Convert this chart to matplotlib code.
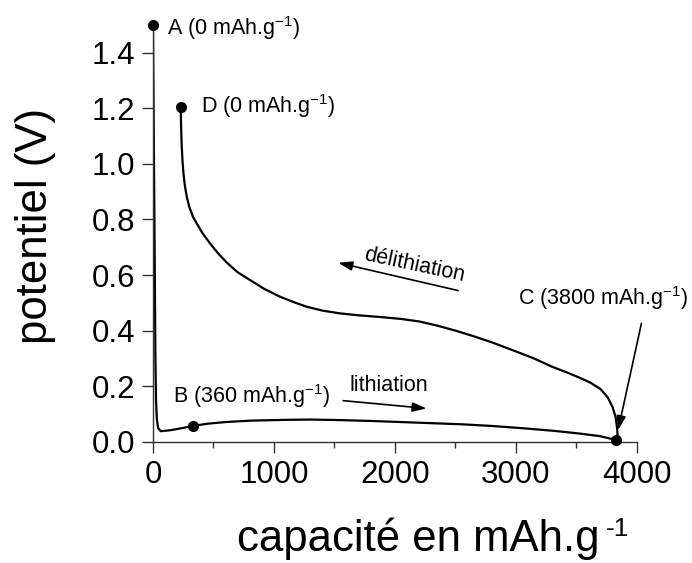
import matplotlib
matplotlib.use("Agg")
import matplotlib.pyplot as plt
from matplotlib.ticker import MultipleLocator

plt.rcParams['font.family'] = ['Liberation Sans', 'DejaVu Sans']
plt.rcParams['mathtext.fontset'] = 'custom'
plt.rcParams['mathtext.rm'] = 'Liberation Sans'
plt.rcParams['mathtext.it'] = 'Liberation Sans:italic'
plt.rcParams['mathtext.bf'] = 'Liberation Sans:bold'

# Lithiation: A -> B -> C
lith_x = [0, 5, 10, 15, 20, 25, 32, 42, 64, 150, 250, 330, 450, 600, 800, 1100,
          1300, 1550, 1800, 2050, 2300, 2550, 2800, 3050, 3300, 3500, 3700, 3832]
lith_y = [1.50, 1.20, 0.90, 0.60, 0.30, 0.15, 0.08, 0.05, 0.038, 0.042, 0.050,
          0.057, 0.065, 0.071, 0.076, 0.079, 0.080, 0.078, 0.075, 0.071, 0.067,
          0.063, 0.057, 0.049, 0.040, 0.031, 0.020, 0.006]

# Delithiation: D -> C
delith_x = [229, 231, 234, 238, 244, 252, 264, 280, 300, 330, 361, 410, 471, 540,
            609, 700, 802, 920, 1050, 1160, 1270, 1400, 1545, 1700, 1875, 2050,
            2200, 2350, 2500, 2650, 2800, 2978, 3150, 3300, 3420, 3530, 3620, 3700,
            3760, 3800, 3825, 3838, 3842, 3832]
delith_y = [1.203, 1.16, 1.11, 1.06, 1.01, 0.965, 0.92, 0.88, 0.845, 0.81, 0.786,
            0.75, 0.714, 0.677, 0.645, 0.61, 0.582, 0.55, 0.522, 0.503, 0.486,
            0.472, 0.462, 0.455, 0.449, 0.442, 0.433, 0.418, 0.40, 0.38, 0.358,
            0.329, 0.30, 0.27, 0.25, 0.23, 0.212, 0.19, 0.16, 0.125, 0.09, 0.05,
            0.02, 0.006]

# Marked points
pt_x = [0, 330, 3832, 229]
pt_y = [1.50, 0.057, 0.006, 1.203]
pt_labels = ["A (0 mAh.g$^{-1}$)", "B (360 mAh.g$^{-1}$)",
             "C (3800 mAh.g$^{-1}$)", "D (0 mAh.g$^{-1}$)"]

x_ticks = [0, 1000, 2000, 3000, 4000]
y_ticks = [0.0, 0.2, 0.4, 0.6, 0.8, 1.0, 1.2, 1.4]

fig = plt.figure(figsize=(6.92, 5.63), dpi=100)
ax = fig.add_axes([0.2211, 0.2153, 0.699, 0.7406])

ax.plot(lith_x, lith_y, color='black', lw=1.6, solid_joinstyle='round')
ax.plot(delith_x, delith_y, color='black', lw=1.6, solid_joinstyle='round')
ax.plot(pt_x, pt_y, 'o', color='black', ms=7, clip_on=False, zorder=5)

ax.set_xlim(0, 4000)
ax.set_ylim(0, 1.5)
ax.set_xticks(x_ticks)
ax.set_xticklabels([str(v) for v in x_ticks])
ax.set_yticks(y_ticks)
ax.set_yticklabels([f"{v:.1f}" for v in y_ticks])
ax.xaxis.set_minor_locator(MultipleLocator(500))

for s in ['top', 'right']:
    ax.spines[s].set_visible(False)
for s in ['left', 'bottom']:
    ax.spines[s].set_linewidth(1.0)
    ax.spines[s].set_color('#333333')

ax.tick_params(axis='both', which='major', direction='out', length=8, width=1.0,
               color='#333333', labelsize=22.5, pad=5)
ax.tick_params(axis='x', which='minor', direction='out', length=4.5, width=1.0,
               color='#333333')

# Point labels
lab_pos = [(116, 1.463), (168, 0.138), (3020, 0.492), (397, 1.184)]
for (lx, ly), t in zip(lab_pos, pt_labels):
    ax.text(lx, ly, t, fontsize=15.5, ha='left', va='baseline', clip_on=False)

ax.text(1628, 0.184, "lithiation", fontsize=15.5, ha='left', va='baseline')
ax.text(2165, 0.636, "délithiation", fontsize=15.5, ha='center', va='center',
        rotation=-12, rotation_mode='anchor')

arrow = dict(arrowstyle='-|>,head_length=0.6,head_width=0.2', color='black',
             lw=1.2, shrinkA=0, shrinkB=0, mutation_scale=14)
ax.annotate("", xy=(2262, 0.120), xytext=(1573, 0.148), arrowprops=arrow)
ax.annotate("", xy=(1532, 0.644), xytext=(2523, 0.544), arrowprops=arrow)
ax.annotate("", xy=(3846, 0.042), xytext=(4039, 0.426), arrowprops=arrow,
            annotation_clip=False)

# Axis labels
fig.text(0.3425, 0.0218, "capacité en mAh.g", fontsize=31.5, ha='left', va='baseline')
fig.text(0.8760, 0.0480, "-1", fontsize=19, ha='left', va='baseline')
fig.text(0.0506, 0.5986, "potentiel (V)", fontsize=31.5, rotation=90,
         ha='center', va='center')

fig.savefig("out.png", dpi=100)
